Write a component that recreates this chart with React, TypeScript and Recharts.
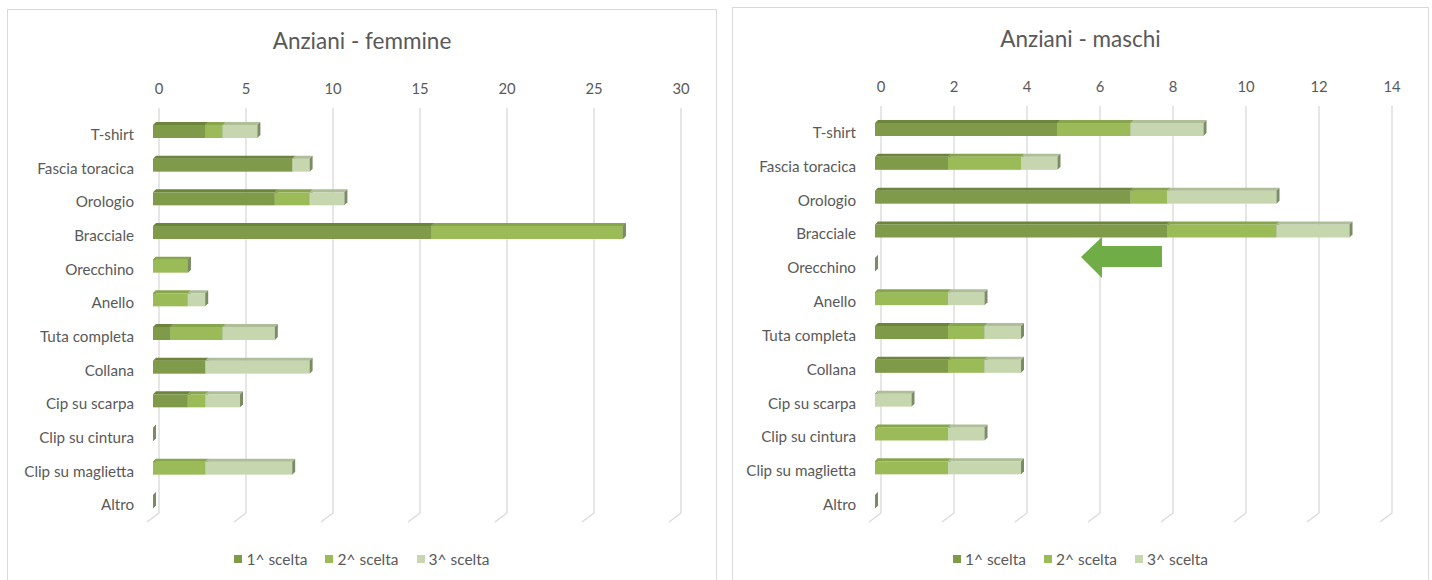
import React from 'react';
import { BarChart, Bar, XAxis, YAxis, CartesianGrid } from 'recharts';

const categories = [
  'T-shirt',
  'Fascia toracica',
  'Orologio',
  'Bracciale',
  'Orecchino',
  'Anello',
  'Tuta completa',
  'Collana',
  'Cip su scarpa',
  'Clip su cintura',
  'Clip su maglietta',
  'Altro',
];

const seriesNames = ['1^ scelta', '2^ scelta', '3^ scelta'];

// femmine
const femmine1 = [3, 8, 7, 16, 0, 0, 1, 3, 2, 0, 0, 0];
const femmine2 = [1, 0, 2, 11, 2, 2, 3, 0, 1, 0, 3, 0];
const femmine3 = [2, 1, 2, 0, 0, 1, 3, 6, 2, 0, 5, 0];
const femmineTicks = [0, 5, 10, 15, 20, 25, 30];

// maschi
const maschi1 = [5, 2, 7, 8, 0, 0, 2, 2, 0, 0, 0, 0];
const maschi2 = [2, 2, 1, 3, 0, 2, 1, 1, 0, 2, 2, 0];
const maschi3 = [2, 1, 3, 2, 0, 1, 1, 1, 1, 1, 2, 0];
const maschiTicks = [0, 2, 4, 6, 8, 10, 12, 14];

const FACE = ['#7F9A48', '#9BBB59', '#C6D7AF'];
const TOP = ['#6C853A', '#87A54B', '#AEBE98'];
const CAP = '#7B8B64';
const FONT = 'Lato, "Noto Sans", sans-serif';
const TEXT = '#595959';
const GRID = '#D9D9D9';

const buildRows = (a: number[], b: number[], c: number[]) =>
  categories.map((name, i) => ({ name, s1: a[i], s2: b[i], s3: c[i] }));

const femmineData = buildRows(femmine1, femmine2, femmine3);
const maschiData = buildRows(maschi1, maschi2, maschi3);

// bar with a small top face and end cap, like the excel 3D bars
const make3D = (idx: number) => (props: any) => {
  const { x, y, width, height } = props;
  const w = Math.max(width || 0, 0);
  const d = 3;
  return (
    <g>
      <rect x={x} y={y} width={w} height={height} fill={FACE[idx]} />
      <polygon
        points={`${x},${y} ${x + w},${y} ${x + w + d},${y - d} ${x + d},${y - d}`}
        fill={TOP[idx]}
      />
      <polygon
        points={`${x + w},${y} ${x + w + d},${y - d} ${x + w + d},${y + height - d} ${x + w},${y + height}`}
        fill={CAP}
      />
    </g>
  );
};

const gridLine = (props: any) => {
  const { x1, y1, y2, index } = props;
  return (
    <polyline
      key={`g-${index}`}
      points={`${x1 + 6},${y1 - 7} ${x1 + 6},${y2 - 6} ${x1 - 6},${y2 + 3}`}
      fill="none"
      stroke={GRID}
      strokeWidth={1.3}
    />
  );
};

const TopTick = (props: any) => {
  const { x, y, payload } = props;
  return (
    <text x={x + 6} y={y} textAnchor="middle" fill={TEXT} fontSize={14.8} fontFamily={FONT}>
      {payload.value}
    </text>
  );
};

const CatTick = (props: any) => {
  const { x, y, payload } = props;
  return (
    <text x={x} y={y + 8} textAnchor="end" fill={TEXT} fontSize={15.2} fontFamily={FONT}>
      {payload.value}
    </text>
  );
};

const Legend3 = () => (
  <div
    style={{
      display: 'flex',
      justifyContent: 'center',
      gap: 18,
      fontFamily: FONT,
      fontSize: 15.5,
      color: TEXT,
    }}
  >
    {seriesNames.map((n, i) => (
      <div key={n} style={{ display: 'flex', alignItems: 'center', gap: 4 }}>
        <div style={{ width: 8, height: 8, background: FACE[i] }} />
        <span>{n}</span>
      </div>
    ))}
  </div>
);

interface PanelProps {
  title: string;
  data: any[];
  ticks: number[];
  left: number;
  top: number;
  width: number;
  height: number;
  marginRight: number;
  marginBottom: number;
  yWidth: number;
}

const Panel = ({ title, data, ticks, left, top, width, height, marginRight, marginBottom, yWidth }: PanelProps) => (
  <div
    style={{
      position: 'absolute',
      left,
      top,
      width,
      height,
      boxSizing: 'border-box',
      border: `1.5px solid ${GRID}`,
      background: '#fff',
    }}
  >
    <div
      style={{
        position: 'absolute',
        top: 17,
        width: '100%',
        textAlign: 'center',
        fontFamily: FONT,
        fontSize: 22.5,
        color: TEXT,
      }}
    >
      {title}
    </div>
    <div style={{ position: 'absolute', left: 0, top: 0 }}>
      <BarChart
        layout="vertical"
        width={width - 3}
        height={height}
        data={data}
        barSize={13}
        margin={{ top: 77, right: marginRight, bottom: marginBottom, left: 3 }}
      >
        <CartesianGrid horizontal={false} vertical={gridLine} />
        <XAxis
          type="number"
          orientation="top"
          domain={[ticks[0], ticks[ticks.length - 1]]}
          ticks={ticks}
          interval={0}
          axisLine={false}
          tickLine={false}
          tickSize={0}
          tickMargin={21}
          height={28}
          tick={<TopTick />}
        />
        <YAxis
          type="category"
          dataKey="name"
          interval={0}
          axisLine={false}
          tickLine={false}
          tickSize={0}
          tickMargin={19}
          width={yWidth}
          tick={<CatTick />}
        />
        <Bar dataKey="s1" stackId="a" name={seriesNames[0]} isAnimationActive={false} shape={make3D(0)} />
        <Bar dataKey="s2" stackId="a" name={seriesNames[1]} isAnimationActive={false} shape={make3D(1)} />
        <Bar dataKey="s3" stackId="a" name={seriesNames[2]} isAnimationActive={false} shape={make3D(2)} />
      </BarChart>
    </div>
    <div style={{ position: 'absolute', top: 549 - top, width: '100%' }}>
      <Legend3 />
    </div>
  </div>
);

export default function App() {
  return (
    <div
      style={{
        position: 'absolute',
        left: 0,
        top: 0,
        width: 1432,
        height: 580,
        overflow: 'hidden',
        background: '#fff',
      }}
    >
      <Panel
        title="Anziani - femmine"
        data={femmineData}
        ticks={femmineTicks}
        left={7}
        top={9}
        width={710}
        height={590}
        marginRight={40}
        marginBottom={81}
        yWidth={142}
      />
      <Panel
        title="Anziani - maschi"
        data={maschiData}
        ticks={maschiTicks}
        left={732}
        top={7}
        width={697}
        height={592}
        marginRight={41}
        marginBottom={81}
        yWidth={139}
      />
      <svg
        width={1432}
        height={580}
        style={{ position: 'absolute', left: 0, top: 0, pointerEvents: 'none' }}
      >
        <polygon
          points="1081,257 1102,237 1102,246 1162,246 1162,267 1102,267 1102,278"
          fill="#70AD47"
        />
      </svg>
    </div>
  );
}
